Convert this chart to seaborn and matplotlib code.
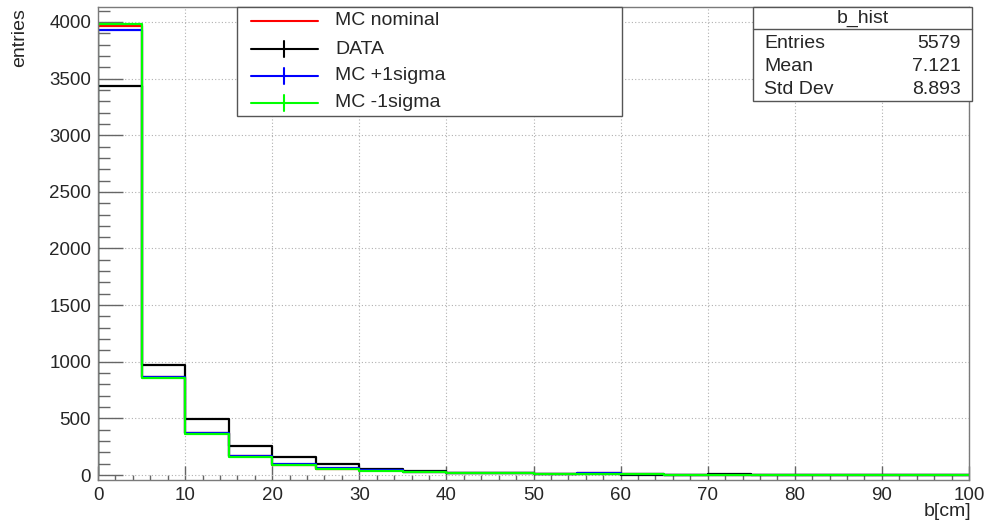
import numpy as np
import pandas as pd
import matplotlib
matplotlib.use("Agg")
import matplotlib.pyplot as plt
import seaborn as sns
from matplotlib.lines import Line2D
from matplotlib.patches import Rectangle
from matplotlib.ticker import MultipleLocator

# ---------------- data ----------------
bin_edges = [0, 5, 10, 15, 20, 25, 30, 35, 40, 45, 50, 55, 60, 65, 70, 75, 80, 85, 90, 95, 100]
data_counts = [3435, 975, 492, 259, 160, 96, 52, 38, 20, 18, 10, 6, 4, 3, 8, 2, 1, 0, 0, 0]
mc_nominal = [3961, 862, 368, 166, 92, 54, 40, 30, 20, 18, 13, 16, 6, 4, 4, 3, 2, 1, 1, 1]
mc_plus = [3925, 866, 375, 172, 99, 58, 40, 30, 20, 18, 13, 18, 6, 4, 4, 3, 2, 1, 1, 1]
mc_minus = [3985, 858, 360, 160, 85, 50, 38, 29, 20, 18, 13, 10, 6, 4, 4, 3, 2, 1, 1, 1]
series_names = ["MC nominal", "DATA", "MC +1sigma", "MC -1sigma"]
series_colors = ["#ff0000", "#000000", "#0000ff", "#00ff00"]
stats_title = "b_hist"
stats_labels = ["Entries", "Mean", "Std Dev"]
stats_values = ["5579", "7.121", "8.893"]

# ---------------- style ----------------
sns.set_style("white")
plt.rcParams['font.family'] = ['Liberation Sans', 'DejaVu Sans']

W, H = 986, 523
fig = plt.figure(figsize=(W / 100, H / 100), dpi=100)


def fx(px):
    return px / W


def fy(py):
    return 1 - py / H


ax = fig.add_axes([fx(98), fy(480), fx(969) - fx(98), fy(7) - fy(480)])

edges = [float(e) for e in bin_edges]
centers = [(a + b) / 2 for a, b in zip(edges[:-1], edges[1:])]
lw = 1.6
all_series = [mc_nominal, data_counts, mc_plus, mc_minus]
for name, vals, col in zip(series_names, all_series, series_colors):
    df = pd.DataFrame({"b": centers, "w": [float(v) for v in vals]})
    sns.histplot(data=df, x="b", weights="w", bins=edges, element="step",
                 fill=False, color=col, linewidth=lw, ax=ax)
    ax.vlines(edges[0], 0, vals[0], color=col, linewidth=lw)

ax.set_xlim(0, 100)
ax.set_ylim(-44, 4132)
ax.xaxis.set_major_locator(MultipleLocator(10))
ax.xaxis.set_minor_locator(MultipleLocator(2))
ax.yaxis.set_major_locator(MultipleLocator(500))
ax.yaxis.set_minor_locator(MultipleLocator(100))

tick_col = "#666666"
ax.tick_params(axis='x', which='major', direction='in', length=10, width=1,
               color=tick_col, labelsize=13.5, pad=5, bottom=True, top=False)
ax.tick_params(axis='x', which='minor', direction='in', length=3.6, width=1,
               color=tick_col, bottom=True, top=False)
ax.tick_params(axis='y', which='major', direction='in', length=18, width=1,
               color=tick_col, labelsize=13.5, pad=5, left=True, right=False)
ax.tick_params(axis='y', which='minor', direction='in', length=8.5, width=1,
               color=tick_col, left=True, right=False)
ax.grid(True, which='major', linestyle=(0, (1, 2)), color='#b0b0b0', linewidth=0.8)
ax.set_axisbelow(True)
for sp in ax.spines.values():
    sp.set_color('#7a7a7a')
    sp.set_linewidth(1)

ax.set_ylabel("entries", fontsize=14, rotation=90, ha='right', va='center')
ax.yaxis.set_label_coords((20 - 98) / 871, 1.0 - 1 / 473)
ax.set_xlabel("b[cm]", fontsize=14, ha='right', va='center')
ax.xaxis.set_label_coords((971 - 98) / 871, (480 - 512) / 473)

# ---------------- legend box ----------------
box_col = "#555555"
leg_l, leg_t, leg_r, leg_b = 236.7, 7.3, 622, 116
fig.patches.append(Rectangle((fx(leg_l), fy(leg_b)), fx(leg_r) - fx(leg_l), fy(leg_t) - fy(leg_b),
                             transform=fig.transFigure, facecolor='white', edgecolor=box_col,
                             linewidth=1, zorder=5))
rows_y = [20.7, 49.3, 76.0, 102.7]
h_x0, h_x1, t_x = 250.7, 318, 335
for i, (name, col) in enumerate(zip(series_names, series_colors)):
    yy = rows_y[i]
    fig.lines.append(Line2D([fx(h_x0), fx(h_x1)], [fy(yy), fy(yy)], color=col, linewidth=1.5,
                            transform=fig.transFigure, zorder=6))
    if i > 0:
        xm = (h_x0 + h_x1) / 2
        fig.lines.append(Line2D([fx(xm), fx(xm)], [fy(yy - 8), fy(yy + 8)], color=col, linewidth=1.5,
                                transform=fig.transFigure, zorder=6))
    fig.text(fx(t_x), fy(yy), name, fontsize=14, ha='left', va='center', zorder=7)

# ---------------- stats box ----------------
st_l, st_t, st_r, st_b = 753.3, 6.7, 971.5, 100.5
fig.patches.append(Rectangle((fx(st_l), fy(st_b)), fx(st_r) - fx(st_l), fy(st_t) - fy(st_b),
                             transform=fig.transFigure, facecolor='white', edgecolor=box_col,
                             linewidth=1, zorder=5))
fig.lines.append(Line2D([fx(st_l), fx(st_r)], [fy(29.5), fy(29.5)], color=box_col, linewidth=1,
                        transform=fig.transFigure, zorder=6))
fig.text(fx((st_l + st_r) / 2), fy(18.5), stats_title, fontsize=14, ha='center', va='center', zorder=7)
for i, (lab, val) in enumerate(zip(stats_labels, stats_values)):
    yy = [43.3, 66.7, 89.3][i]
    fig.text(fx(764), fy(yy), lab, fontsize=14, ha='left', va='center', zorder=7)
    fig.text(fx(961), fy(yy), val, fontsize=14, ha='right', va='center', zorder=7)

fig.savefig("out.png", dpi=100)
